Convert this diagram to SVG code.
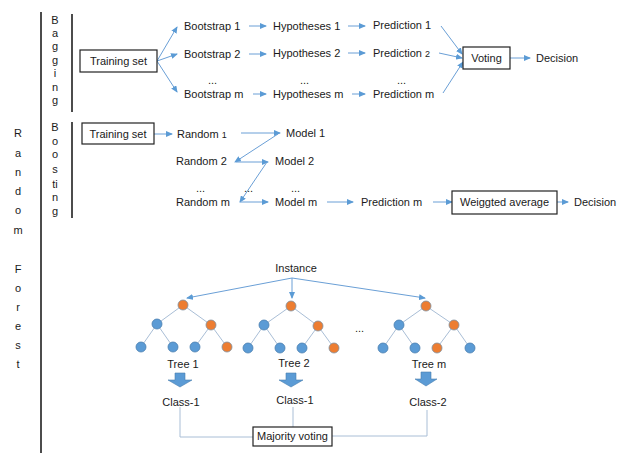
<svg xmlns="http://www.w3.org/2000/svg" width="617" height="453" viewBox="0 0 617 453">
<style>
text{font-family:"Liberation Sans",Arial,sans-serif;font-size:11px;fill:#1a1a1a}
.sm{font-size:9px}
.big{font-size:14px}
.box{fill:#fff;stroke:#222;stroke-width:1.2}
.c{stroke:#6A9FD6;stroke-width:1;fill:none}
.e{stroke:#A9BED6;stroke-width:1;fill:none}
.b{fill:#5B9BD5;stroke:#4A7FB0;stroke-width:0.8}
.o{fill:#ED7D31;stroke:#7F8FA0;stroke-width:0.8}
.bar{stroke:#111;stroke-width:1.5}
.blk{fill:#5B9BD5;stroke:#4A7FB0;stroke-width:0.6}
</style>
<defs>
<marker id="ah" markerWidth="7" markerHeight="6" refX="6" refY="3" orient="auto" markerUnits="userSpaceOnUse">
<path d="M0,0 L7,3 L0,6 Z" fill="#5B9BD5"/>
</marker>
</defs>
<rect width="617" height="453" fill="#fff"/>
<g id="frame">
<line class="bar" x1="41" y1="12" x2="41" y2="453"/>
<line class="bar" x1="72" y1="14" x2="72" y2="112"/>
<line class="bar" x1="72" y1="122" x2="72" y2="218"/>
<g text-anchor="middle" class="big">
<text x="18" y="137">R</text><text x="18" y="157">a</text><text x="18" y="176">n</text><text x="18" y="195">d</text><text x="18" y="214">o</text><text x="18" y="234">m</text>
<text x="18" y="273">F</text><text x="18" y="292">o</text><text x="18" y="311">r</text><text x="18" y="330">e</text><text x="18" y="349">s</text><text x="18" y="368">t</text>
</g>
<g text-anchor="middle">
<text x="55" y="24">B</text><text x="55" y="37">a</text><text x="55" y="50">g</text><text x="55" y="64">g</text><text x="55" y="77">i</text><text x="55" y="91">n</text><text x="55" y="104">g</text>
</g>
<g text-anchor="middle" class="sm">
<text x="55" y="131">B</text><text x="55" y="145">o</text><text x="55" y="158">o</text><text x="55" y="173">s</text><text x="55" y="188">ti</text><text x="55" y="201">n</text><text x="55" y="215">g</text>
</g>
</g>
<g id="connectors">
<line class="c" x1="157" y1="61" x2="177" y2="27" marker-end="url(#ah)"/>
<line class="c" x1="157" y1="61" x2="177" y2="54" marker-end="url(#ah)"/>
<line class="c" x1="157" y1="61" x2="177" y2="92" marker-end="url(#ah)"/>
<line class="c" x1="249" y1="26" x2="266" y2="26" marker-end="url(#ah)"/>
<line class="c" x1="249" y1="54" x2="266" y2="54" marker-end="url(#ah)"/>
<line class="c" x1="253" y1="94" x2="266" y2="94" marker-end="url(#ah)"/>
<line class="c" x1="348" y1="26" x2="365" y2="26" marker-end="url(#ah)"/>
<line class="c" x1="348" y1="53" x2="365" y2="53" marker-end="url(#ah)"/>
<line class="c" x1="352" y1="94" x2="365" y2="94" marker-end="url(#ah)"/>
<line class="c" x1="441" y1="26" x2="462" y2="54" marker-end="url(#ah)"/>
<line class="c" x1="439" y1="53" x2="462" y2="58" marker-end="url(#ah)"/>
<line class="c" x1="443" y1="93" x2="463" y2="62" marker-end="url(#ah)"/>
<line class="c" x1="510" y1="58" x2="530" y2="58" marker-end="url(#ah)"/>
<line class="c" x1="154" y1="134" x2="172" y2="134" marker-end="url(#ah)"/>
<line class="c" x1="241" y1="133" x2="280" y2="133" marker-end="url(#ah)"/>
<line class="c" x1="278" y1="134" x2="235" y2="162" marker-end="url(#ah)"/>
<line class="c" x1="236" y1="162" x2="268" y2="162" marker-end="url(#ah)"/>
<line class="c" x1="267" y1="162" x2="240" y2="202" marker-end="url(#ah)"/>
<line class="c" x1="240" y1="202" x2="268" y2="202" marker-end="url(#ah)"/>
<line class="c" x1="327" y1="202" x2="353" y2="202" marker-end="url(#ah)"/>
<line class="c" x1="433" y1="202" x2="452" y2="202" marker-end="url(#ah)"/>
<line class="c" x1="557" y1="202" x2="568" y2="202" marker-end="url(#ah)"/>
<line class="c" x1="292" y1="278" x2="187" y2="298" marker-end="url(#ah)"/>
<line class="c" x1="292" y1="278" x2="292" y2="298" marker-end="url(#ah)"/>
<line class="c" x1="292" y1="278" x2="425" y2="298" marker-end="url(#ah)"/>
<polyline class="e" points="180,407 180,437 253,437"/>
<line class="e" x1="293" y1="407" x2="293" y2="427"/>
<polyline class="e" points="332,436 427,436 427,410"/>
</g>
<g id="bagging-training">
<rect class="box" x="80" y="50" width="77" height="22"/>
<text x="118.5" y="65" text-anchor="middle">Training set</text>
</g>
<g id="bagging-labels">
<text x="184" y="30">Bootstrap 1</text>
<text x="184" y="58">Bootstrap 2</text>
<text x="208" y="84">...</text>
<text x="184" y="98">Bootstrap m</text>
<text x="273" y="30">Hypotheses 1</text>
<text x="273" y="57">Hypotheses 2</text>
<text x="300" y="84">...</text>
<text x="273" y="98">Hypotheses m</text>
<text x="373" y="29">Prediction 1</text>
<text x="373" y="57">Prediction <tspan font-size="9">2</tspan></text>
<text x="397" y="84">...</text>
<text x="373" y="98">Prediction m</text>
<text x="536" y="62">Decision</text>
</g>
<g id="voting">
<rect class="box" x="463" y="47" width="47" height="22"/>
<text x="486.5" y="62" text-anchor="middle">Voting</text>
</g>
<g id="boosting-training">
<rect class="box" x="82" y="123" width="72" height="21"/>
<text x="118" y="138" text-anchor="middle">Training set</text>
</g>
<g id="boosting-labels">
<text x="177" y="138">Random <tspan font-size="9">1</tspan></text>
<text x="286" y="137">Model 1</text>
<text x="176" y="165">Random 2</text>
<text x="275" y="165">Model 2</text>
<text x="196" y="192">...</text>
<text x="244" y="192">...</text>
<text x="291" y="192">...</text>
<text x="176" y="206">Random m</text>
<text x="275" y="206">Model m</text>
<text x="361" y="206">Prediction m</text>
<text x="574" y="206">Decision</text>
</g>
<g id="weighted">
<rect class="box" x="452" y="191" width="105" height="23"/>
<text x="504.5" y="206" text-anchor="middle">Weiggted average</text>
</g>
<g id="instance"><text x="296" y="272" text-anchor="middle">Instance</text></g>
<g id="tree1">
<g class="e"><line x1="183" y1="305" x2="157" y2="324"/><line x1="183" y1="305" x2="211" y2="325"/><line x1="157" y1="324" x2="141" y2="347"/><line x1="157" y1="324" x2="173" y2="347"/><line x1="211" y1="325" x2="195" y2="347"/><line x1="211" y1="325" x2="227" y2="347"/></g>
<circle class="o" cx="183" cy="305" r="5"/><circle class="b" cx="157" cy="324" r="5"/><circle class="o" cx="211" cy="325" r="5"/>
<circle class="b" cx="141" cy="347" r="5"/><circle class="b" cx="173" cy="347" r="5"/><circle class="b" cx="195" cy="347" r="5"/><circle class="o" cx="227" cy="347" r="5"/>
<text x="183" y="368" text-anchor="middle">Tree 1</text>
<path class="blk" d="M175,373 H185 V380 H192 L180,387 L168,380 H175 Z"/>
<text x="181" y="406" text-anchor="middle">Class-1</text>
</g>
<g id="tree2">
<g class="e"><line x1="291" y1="306" x2="264" y2="325"/><line x1="291" y1="306" x2="318" y2="326"/><line x1="264" y1="325" x2="248" y2="348"/><line x1="264" y1="325" x2="280" y2="348"/><line x1="318" y1="326" x2="302" y2="348"/><line x1="318" y1="326" x2="334" y2="348"/></g>
<circle class="o" cx="291" cy="306" r="5"/><circle class="b" cx="264" cy="325" r="5"/><circle class="o" cx="318" cy="326" r="5"/>
<circle class="b" cx="248" cy="348" r="5"/><circle class="b" cx="280" cy="348" r="5"/><circle class="b" cx="302" cy="348" r="5"/><circle class="o" cx="334" cy="348" r="5"/>
<text x="294" y="367" text-anchor="middle">Tree 2</text>
<path class="blk" d="M286,373 H296 V380 H303 L291,387 L279,380 H286 Z"/>
<text x="295" y="404" text-anchor="middle">Class-1</text>
</g>
<g id="dots"><text x="355" y="332">...</text></g>
<g id="treem">
<g class="e"><line x1="426" y1="306" x2="399" y2="325"/><line x1="426" y1="306" x2="454" y2="325"/><line x1="399" y1="325" x2="383" y2="348"/><line x1="399" y1="325" x2="415" y2="348"/><line x1="454" y1="325" x2="437" y2="348"/><line x1="454" y1="325" x2="470" y2="348"/></g>
<circle class="o" cx="426" cy="306" r="5"/><circle class="b" cx="399" cy="325" r="5"/><circle class="o" cx="454" cy="325" r="5"/>
<circle class="b" cx="383" cy="348" r="5"/><circle class="b" cx="415" cy="348" r="5"/><circle class="o" cx="437" cy="348" r="5"/><circle class="b" cx="470" cy="348" r="5"/>
<text x="429" y="368" text-anchor="middle">Tree m</text>
<path class="blk" d="M421,372 H431 V379 H437 L426,386 L415,379 H421 Z"/>
<text x="428" y="406" text-anchor="middle">Class-2</text>
</g>
<g id="majority">
<rect class="box" x="253" y="427" width="79" height="19" stroke-width="1"/>
<text x="292.5" y="440" text-anchor="middle" font-size="9.5">Majority voting</text>
</g>
</svg>
